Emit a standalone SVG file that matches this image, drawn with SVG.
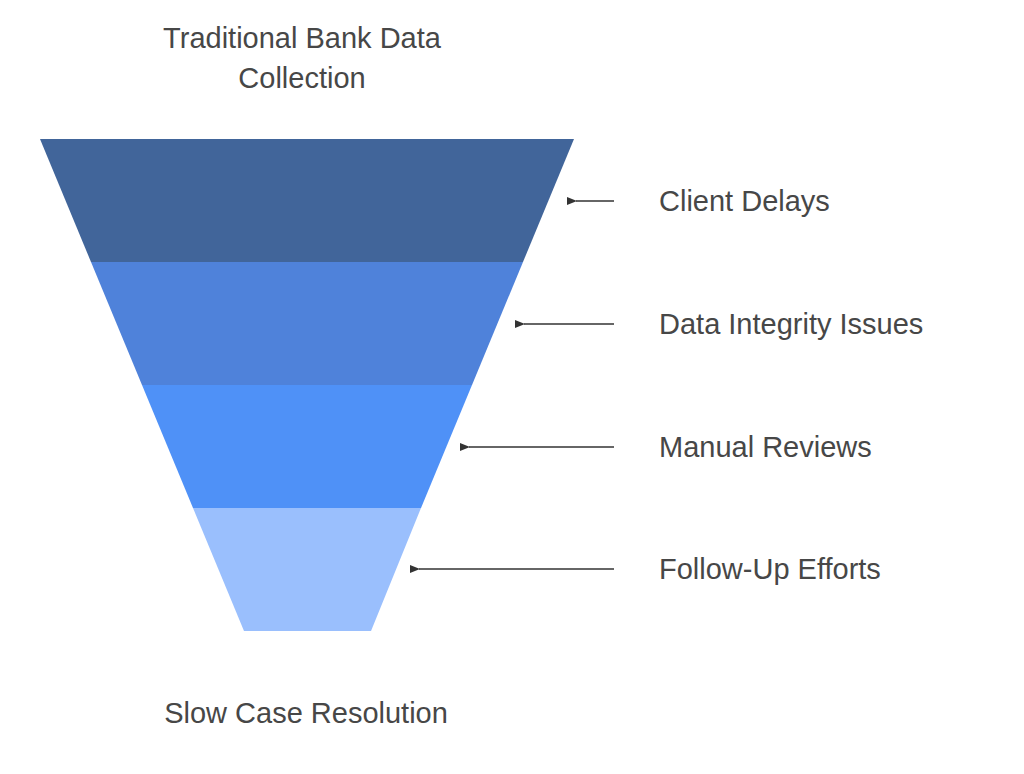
<svg xmlns="http://www.w3.org/2000/svg" width="1024" height="774" viewBox="0 0 1024 774">
<defs>
<style>
text{font-family:"Liberation Sans",Arial,sans-serif;font-size:29px;fill:#474747}
.c{stroke:#333;stroke-width:1.5;fill:none}
</style>
<marker id="a" markerWidth="10" markerHeight="8" refX="1" refY="4" orient="auto" markerUnits="userSpaceOnUse"><path d="M10,0 L0,4 L10,8 Z" fill="#333"/></marker>
</defs>
<rect width="1024" height="774" fill="#fff"/>
<g id="title"><text x="302" y="48" text-anchor="middle">Traditional Bank Data</text><text x="302" y="88" text-anchor="middle">Collection</text></g>
<g id="band1"><polygon points="40,139 574,139 523,262 91,262" fill="#41659A"/></g>
<g id="band2"><polygon points="91,262 523,262 472,385 142,385" fill="#4F82DA"/></g>
<g id="band3"><polygon points="142,385 472,385 421,508 193,508" fill="#4F91F7"/></g>
<g id="band4"><polygon points="193,508 421,508 371,631 244,631" fill="#9ABFFD"/></g>
<g id="connectors">
<line class="c" x1="614" y1="201" x2="576" y2="201" marker-end="url(#a)"/>
<line class="c" x1="614" y1="324" x2="524" y2="324" marker-end="url(#a)"/>
<line class="c" x1="614" y1="447" x2="469" y2="447" marker-end="url(#a)"/>
<line class="c" x1="614" y1="569" x2="419" y2="569" marker-end="url(#a)"/>
</g>
<g id="l1"><text x="659" y="211">Client Delays</text></g>
<g id="l2"><text x="659" y="334">Data Integrity Issues</text></g>
<g id="l3"><text x="659" y="457">Manual Reviews</text></g>
<g id="l4"><text x="659" y="579">Follow-Up Efforts</text></g>
<g id="bottom"><text x="306" y="723" text-anchor="middle">Slow Case Resolution</text></g>
</svg>
